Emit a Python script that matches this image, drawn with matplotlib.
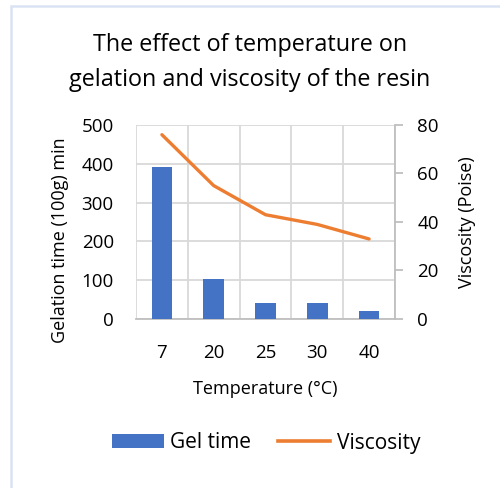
import matplotlib
matplotlib.use("Agg")
import matplotlib.pyplot as plt
from matplotlib.patches import Rectangle, Patch
from matplotlib.lines import Line2D
import numpy as np

categories = ["7", "20", "25", "30", "40"]
gel_time = [393, 102, 42, 42, 21]
viscosity = [76, 55, 43, 39, 33]

plt.rcParams['font.family'] = ['Open Sans', 'DejaVu Sans']

W, H = 500, 488
fig = plt.figure(figsize=(W/100, H/100), dpi=100)

# outer chart frame
fig.patches.append(Rectangle((10.5/W, -0.1), 2.0, 1.1 - 6.5/H, transform=fig.transFigure,
                             fill=False, edgecolor='#dae3f3', linewidth=1.8))

ax = fig.add_axes([136/W, 1-319/H, (395-136)/W, (319-125)/H])
x = np.arange(len(categories))
ax.bar(x, gel_time, width=0.4, color='#4472C4', zorder=3)
ax.set_xlim(-0.5, len(categories)-0.5)
ax.set_ylim(0, 500)
ax.set_yticks([0, 100, 200, 300, 400, 500])
ax.set_xticks(x)
ax.set_xticklabels(categories)
ax.set_xticks(np.arange(-0.5, len(categories), 1.0), minor=True)
ax.grid(True, axis='y', color='#d9d9d9', linewidth=1.3, zorder=0)
ax.grid(True, axis='x', which='minor', color='#d9d9d9', linewidth=1.3, zorder=0)
ax.grid(False, axis='x', which='major')
for s in ['top', 'right', 'left']:
    ax.spines[s].set_visible(False)
ax.spines['bottom'].set_color('#bfbfbf')
ax.spines['bottom'].set_linewidth(1.3)
ax.tick_params(axis='both', which='both', length=0, labelsize=13.5, colors='black')
ax.tick_params(axis='y', pad=16)
ax.tick_params(axis='x', pad=18)
ax.set_ylabel("Gelation time (100g) min", fontsize=13, labelpad=9)
ax.yaxis.label.set_y(0.407)
ax.set_xlabel("Temperature (°C)", fontsize=13, labelpad=13)

ax2 = ax.twinx()
ax2.plot(x, viscosity, color='#ED7D31', linewidth=2.4, solid_capstyle='round', zorder=4)
ax2.set_ylim(0, 80)
ax2.set_yticks([0, 20, 40, 60, 80])
for s in ['top', 'left', 'bottom']:
    ax2.spines[s].set_visible(False)
ax2.spines['right'].set_color('#bfbfbf')
ax2.spines['right'].set_linewidth(1.3)
ax2.tick_params(axis='y', length=6, width=1.3, color='#bfbfbf', labelsize=13.5, pad=10)
ax2.set_ylabel("Viscosity (Poise)", fontsize=13, labelpad=14)

fig.text(0.5, 1-45/H, "The effect of temperature on", ha='center', va='center', fontsize=16.8)
fig.text(0.5, 1-80/H, "gelation and viscosity of the resin", ha='center', va='center', fontsize=16.8)

handles = [Patch(facecolor='#4472C4', edgecolor='none'),
           Line2D([0], [0], color='#ED7D31', linewidth=2.6)]
fig.legend(handles, ["Gel time", "Viscosity"], loc='center', bbox_to_anchor=(266/W, 1-443/H),
           ncol=2, frameon=False, fontsize=15, handlelength=2.5, handleheight=0.66,
           handletextpad=0.3, columnspacing=1.3)

fig.savefig("out.png", dpi=100, facecolor='white')
